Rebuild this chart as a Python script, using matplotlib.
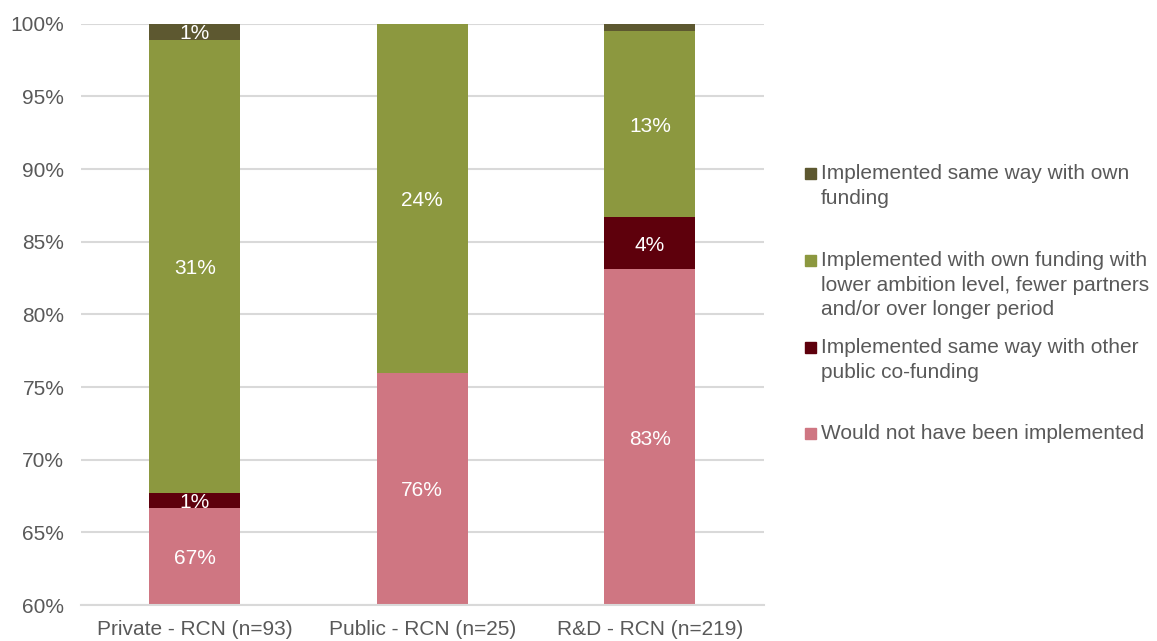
import matplotlib
matplotlib.use("Agg")
import matplotlib.pyplot as plt
from matplotlib.patches import Rectangle
import numpy as np

plt.rcParams['font.family'] = ['Liberation Sans', 'DejaVu Sans']

categories = ["Private - RCN (n=93)", "Public - RCN (n=25)", "R&D - RCN (n=219)"]
# shares in percent, stacked bottom to top
not_implemented = [66.7, 76.0, 83.1]
other_public = [1.0, 0.0, 3.6]
lower_ambition = [31.2, 24.0, 12.8]
same_own = [1.1, 0.0, 0.5]

series = [
    ("Would not have been implemented", not_implemented, "#CF7682"),
    ("Implemented same way with other\npublic co-funding", other_public, "#5E000C"),
    ("Implemented with own funding with\nlower ambition level, fewer partners\nand/or over longer period", lower_ambition, "#8C983F"),
    ("Implemented same way with own\nfunding", same_own, "#5D5830"),
]

text_grey = "#595959"
grid_grey = "#D9D9D9"
fs = 15
ymin, ymax = 60, 100

fig = plt.figure(figsize=(11.57, 6.41), dpi=100)
ax = fig.add_axes([0.070, 0.056, 0.590, 0.907])

x = np.arange(len(categories))
bottom = np.zeros(len(categories))
for name, vals, color in series:
    vals = np.array(vals)
    ax.bar(x, vals, 0.4, bottom=bottom, color=color, zorder=2)
    for xi, b, v in zip(x, bottom, vals):
        if round(v) == 0:
            continue
        lo = max(b, ymin)
        ax.text(xi, (lo + b + v) / 2, f"{v:.0f}%", ha="center", va="center_baseline",
                color="white", fontsize=fs, zorder=3, clip_on=True)
    bottom = bottom + vals

ax.set_xlim(-0.5, 2.5)
ax.set_ylim(ymin, ymax)
ax.set_yticks(np.arange(60, 101, 5))
ax.set_yticklabels([f"{t}%" for t in range(60, 101, 5)])
ax.set_xticks(x)
ax.set_xticklabels(categories)
ax.tick_params(axis="both", length=0, labelsize=fs, labelcolor=text_grey)
ax.tick_params(axis="y", pad=12)
ax.tick_params(axis="x", pad=11)
ax.grid(axis="y", color=grid_grey, linewidth=1.5, zorder=0)
for side in ["top", "right", "left"]:
    ax.spines[side].set_visible(False)
ax.spines["bottom"].set_color(grid_grey)
ax.spines["bottom"].set_linewidth(1.5)

# legend, drawn top entry first
W, H = 1157, 641
legend_rows = [173, 260, 347, 433]
for (name, vals, color), ypx in zip(series[::-1], legend_rows):
    fig.patches.append(Rectangle((805 / W, (H - ypx - 5.5) / H), 11 / W, 11 / H,
                                 transform=fig.transFigure, color=color))
    fig.text(821 / W, (H - ypx + 9) / H, name, ha="left", va="top",
             fontsize=fs, color=text_grey, linespacing=1.38)

fig.savefig("out.png", dpi=100)
